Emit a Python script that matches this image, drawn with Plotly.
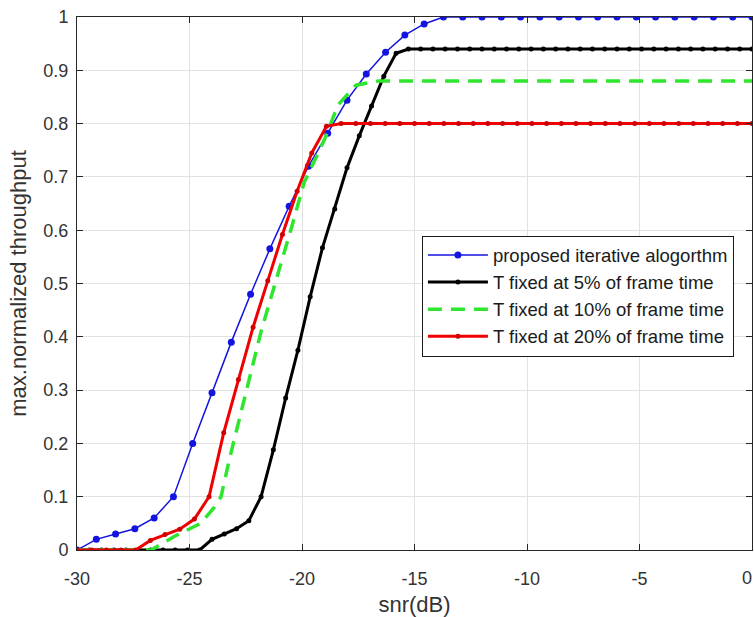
import numpy as np
import plotly.graph_objects as go

# ---- data ----
blue_x = list(np.linspace(-30, 0, 36))
blue_y = [0, 0.02, 0.03, 0.04, 0.06, 0.1, 0.2, 0.295, 0.39, 0.48, 0.565, 0.645,
          0.72, 0.782, 0.844, 0.893, 0.934, 0.966, 0.987, 1.0] + [1.0] * 16

black_x = list(np.linspace(-30, 0, 56))
black_y = [0] * 11 + [0.02, 0.03, 0.04, 0.055, 0.1, 0.188, 0.285, 0.375, 0.475,
                      0.567, 0.64, 0.717, 0.777, 0.833, 0.889, 0.932] + [0.94] * 29

green_x = [-30, -26.7, -25.7, -24.5, -23.9, -23.6, -23.2, -22.3, -21.8, -20.5,
           -19.9, -19.0, -18.4, -17.6, -16.6, 0]
green_y = [0, 0, 0.025, 0.05, 0.08, 0.1, 0.175, 0.33, 0.413, 0.6,
           0.69, 0.77, 0.835, 0.872, 0.88, 0.88]

red_x = list(np.linspace(-30, 0, 47))
red_y = [0, 0, 0, 0, 0, 0.018, 0.029, 0.039, 0.058, 0.10, 0.22, 0.32, 0.418,
         0.505, 0.592, 0.673, 0.745, 0.795] + [0.80] * 29

x_ticks = [-30, -25, -20, -15, -10, -5, 0]
x_tick_text = ["-30", "-25", "-20", "-15", "-10", "-5", "0"]
y_ticks = [0, 0.1, 0.2, 0.3, 0.4, 0.5, 0.6, 0.7, 0.8, 0.9, 1]
y_tick_text = ["0", "0.1", "0.2", "0.3", "0.4", "0.5", "0.6", "0.7", "0.8", "0.9", "1"]

names = ["proposed iterative alogorthm", "T fixed at 5% of frame time",
         "T fixed at 10% of frame time", "T fixed at 20% of frame time"]

FONT = "Liberation Sans, Arial, sans-serif"
TXT = "#333333"
TICK_FONT = dict(family=FONT, size=18, color=TXT)

fig = go.Figure()
fig.add_trace(go.Scatter(x=blue_x, y=blue_y, mode="lines+markers", name=names[0],
                         line=dict(color="#1414e0", width=1.5),
                         marker=dict(color="#1414e0", size=7)))
fig.add_trace(go.Scatter(x=black_x, y=black_y, mode="lines+markers", name=names[1],
                         line=dict(color="#000000", width=3),
                         marker=dict(color="#000000", size=5)))
fig.add_trace(go.Scatter(x=green_x, y=green_y, mode="lines", name=names[2],
                         line=dict(color="#2ee62e", width=3.5, dash="14px,9px")))
fig.add_trace(go.Scatter(x=red_x, y=red_y, mode="lines+markers", name=names[3],
                         line=dict(color="#f00000", width=3),
                         marker=dict(color="#d00000", size=5)))

axis_common = dict(showline=True, linecolor="#262626", linewidth=1, mirror="ticks",
                   ticks="inside", ticklen=6, tickcolor="#262626",
                   showgrid=True, gridcolor="#e2e2e2", gridwidth=1, zeroline=False,
                   tickfont=TICK_FONT)

# the tick at 0 lies on the window edge: its label is drawn as an annotation nudged inward
fig.update_xaxes(range=[-30, 0], tickvals=x_ticks, ticktext=x_tick_text[:-1] + [""],
                 title=dict(text="snr(dB)", font=dict(family=FONT, size=22, color=TXT), standoff=11),
                 ticklabelstandoff=12, **axis_common)
fig.update_yaxes(range=[0, 1], tickvals=y_ticks, ticktext=y_tick_text,
                 title=dict(text="max.normalized throughput", font=dict(family=FONT, size=22, color=TXT), standoff=10),
                 ticklabelstandoff=4, **axis_common)

fig.add_annotation(x=x_ticks[-1], xref="x", y=0, yref="paper", text=x_tick_text[-1],
                   showarrow=False, xanchor="center", yanchor="middle",
                   xshift=-5, yshift=-28, font=TICK_FONT)

fig.update_layout(
    width=754, height=617,
    margin=dict(l=77, r=2, t=17, b=67, autoexpand=False),
    plot_bgcolor="white", paper_bgcolor="white",
    showlegend=True,
    legend=dict(x=0.511, y=0.59, xanchor="left", yanchor="top",
                bgcolor="white", bordercolor="#1a1a1a", borderwidth=1,
                font=dict(family=FONT, size=18.5, color="#1a1a1a"),
                itemwidth=60, tracegroupgap=0),
)

# remove the page's default body margin and scrollbars so the figure fills the window exactly
page_fix = ("document.documentElement.style.overflow='hidden';"
            "document.body.style.margin='0';document.body.style.overflow='hidden';")
fig.write_html("out.html", post_script=page_fix, config={"displayModeBar": False})
